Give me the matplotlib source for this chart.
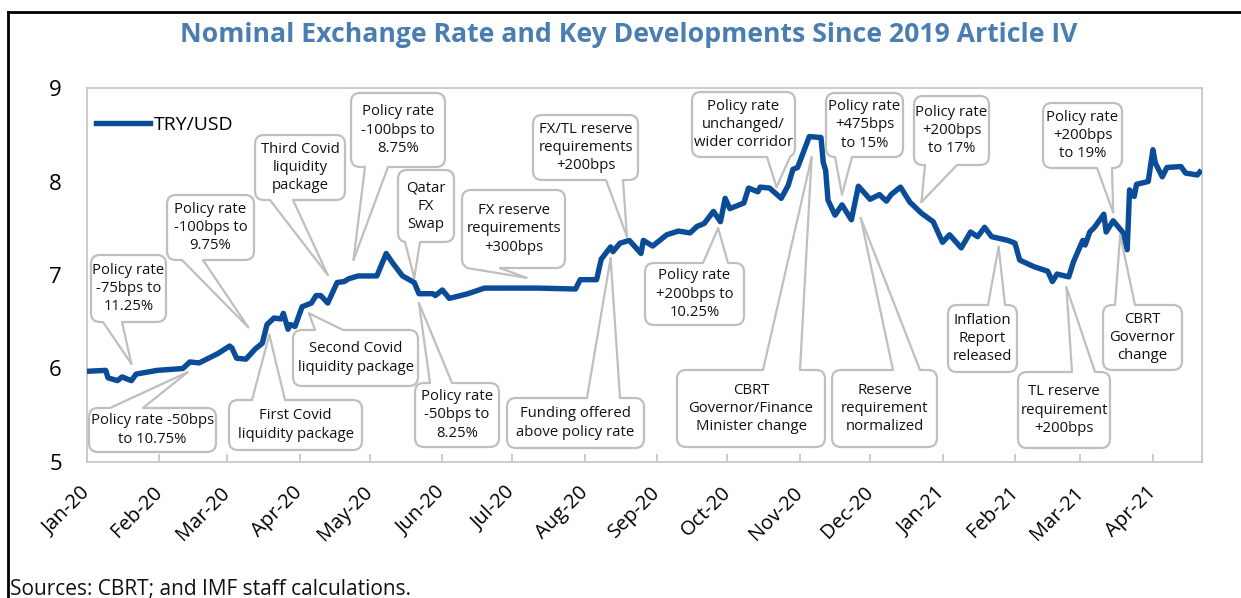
import matplotlib
matplotlib.use("Agg")
import matplotlib.pyplot as plt
import matplotlib.dates as mdates
import matplotlib.transforms as mtransforms
import pandas as pd
from matplotlib.patches import FancyBboxPatch, Polygon
from matplotlib.lines import Line2D

W, H = 1241, 598

DATES = [
    "2020-01-01", "2020-01-09", "2020-01-10", "2020-01-14", "2020-01-16", "2020-01-20", "2020-01-22",
    "2020-01-31", "2020-02-11", "2020-02-14", "2020-02-18", "2020-02-26", "2020-03-02", "2020-03-03",
    "2020-03-05", "2020-03-09", "2020-03-13", "2020-03-16", "2020-03-18", "2020-03-21", "2020-03-24",
    "2020-03-25", "2020-03-27", "2020-03-28", "2020-03-30", "2020-04-02", "2020-04-06", "2020-04-08",
    "2020-04-10", "2020-04-13", "2020-04-17", "2020-04-20", "2020-04-22", "2020-04-26", "2020-05-04",
    "2020-05-08", "2020-05-11", "2020-05-15", "2020-05-20", "2020-05-22", "2020-05-28", "2020-05-29",
    "2020-06-01", "2020-06-04", "2020-06-12", "2020-06-19", "2020-07-12", "2020-07-28", "2020-07-30",
    "2020-08-06", "2020-08-08", "2020-08-12", "2020-08-13", "2020-08-16", "2020-08-20", "2020-08-25",
    "2020-08-26", "2020-08-30", "2020-09-05", "2020-09-10", "2020-09-15", "2020-09-18", "2020-09-21",
    "2020-09-25", "2020-09-28", "2020-09-30", "2020-10-02", "2020-10-08", "2020-10-10", "2020-10-14",
    "2020-10-15", "2020-10-19", "2020-10-24", "2020-10-27", "2020-10-29", "2020-10-31", "2020-11-05",
    "2020-11-10", "2020-11-11", "2020-11-12", "2020-11-13", "2020-11-16", "2020-11-19", "2020-11-23",
    "2020-11-26", "2020-12-01", "2020-12-05", "2020-12-08", "2020-12-10", "2020-12-14", "2020-12-18",
    "2020-12-23", "2020-12-28", "2021-01-01", "2021-01-04", "2021-01-09", "2021-01-13", "2021-01-16",
    "2021-01-19", "2021-01-22", "2021-01-29", "2021-02-01", "2021-02-03", "2021-02-09", "2021-02-15",
    "2021-02-17", "2021-02-19", "2021-02-24", "2021-02-26", "2021-03-02", "2021-03-03", "2021-03-05",
    "2021-03-07", "2021-03-11", "2021-03-12", "2021-03-15", "2021-03-19", "2021-03-21", "2021-03-22",
    "2021-03-24", "2021-03-25", "2021-03-30", "2021-04-01", "2021-04-02", "2021-04-05", "2021-04-07",
    "2021-04-13", "2021-04-15", "2021-04-20", "2021-04-21",
]
TRY_USD = [
    5.97, 5.98, 5.90, 5.87, 5.91, 5.87, 5.94,
    5.98, 6.00, 6.07, 6.06, 6.16, 6.24, 6.22,
    6.11, 6.10, 6.21, 6.27, 6.47, 6.54, 6.53,
    6.59, 6.42, 6.47, 6.45, 6.66, 6.70, 6.78,
    6.78, 6.70, 6.92, 6.93, 6.96, 6.99, 6.99,
    7.23, 7.12, 6.99, 6.92, 6.80, 6.80, 6.78,
    6.84, 6.75, 6.80, 6.86, 6.86, 6.85, 6.95,
    6.95, 7.17, 7.30, 7.25, 7.34, 7.37, 7.23,
    7.37, 7.31, 7.43, 7.47, 7.45, 7.52, 7.55,
    7.68, 7.57, 7.82, 7.71, 7.77, 7.93, 7.89,
    7.94, 7.93, 7.82, 7.96, 8.13, 8.15, 8.48,
    8.47, 8.20, 8.12, 7.80, 7.64, 7.75, 7.59,
    7.95, 7.81, 7.86, 7.79, 7.86, 7.94, 7.78,
    7.66, 7.57, 7.35, 7.43, 7.29, 7.46, 7.41,
    7.51, 7.41, 7.37, 7.34, 7.16, 7.09, 7.04,
    6.93, 7.01, 6.98, 7.14, 7.37, 7.32, 7.46,
    7.51, 7.65, 7.46, 7.58, 7.46, 7.27, 7.91,
    7.84, 7.97, 8.00, 8.34, 8.20, 8.05, 8.15,
    8.16, 8.09, 8.07, 8.10,
]

EVENT_TEXT = [
    "Policy rate\n-75bps to\n11.25%",
    "Policy rate -50bps\nto 10.75%",
    "Policy rate\n-100bps to\n9.75%",
    "First Covid\nliquidity package",
    "Third Covid\nliquidity\npackage",
    "Second Covid\nliquidity package",
    "Policy rate\n-100bps to\n8.75%",
    "Qatar\nFX\nSwap",
    "Policy rate\n-50bps to\n8.25%",
    "FX reserve\nrequirements\n+300bps",
    "FX/TL reserve\nrequirements\n+200bps",
    "Funding offered\nabove policy rate",
    "Policy rate\n+200bps to\n10.25%",
    "Policy rate\nunchanged/\nwider corridor",
    "CBRT\nGovernor/Finance\nMinister change",
    "Reserve\nrequirement\nnormalized",
    "Policy rate\n+475bps\nto 15%",
    "Policy rate\n+200bps\nto 17%",
    "Inflation\nReport\nreleased",
    "TL reserve\nrequirement\n+200bps",
    "Policy rate\n+200bps\nto 19%",
    "CBRT\nGovernor\nchange",
]
EVENT_DATES = [
    "2020-01-20", "2020-02-13", "2020-03-10", "2020-03-19", "2020-04-13", "2020-04-05",
    "2020-04-24", "2020-05-20", "2020-05-22", "2020-07-07", "2020-08-19", "2020-08-12",
    "2020-09-27", "2020-10-22", "2020-11-06", "2020-11-27", "2020-11-19", "2020-12-23",
    "2021-01-25", "2021-02-23", "2021-03-15", "2021-03-18",
]
EVENT_LEVELS = [
    6.05, 5.96, 6.44, 6.36, 7.00, 6.59,
    7.16, 6.97, 6.70, 6.97, 7.41, 7.18,
    7.50, 7.94, 8.26, 7.61, 7.86, 7.78,
    7.30, 6.87, 7.67, 7.43,
]

# callout layout in image pixels: box (left, top, right, bottom), side of the pointer, pointer base
BOXES = [
    (91, 255, 166, 322), (89, 408, 216, 452), (167, 195, 254, 260), (229, 400, 362, 450),
    (255, 135, 345, 200), (293, 330, 418, 386), (351, 93, 445, 167), (398, 170, 454, 242),
    (415, 383, 499, 447), (462, 190, 565, 268), (533, 115, 638, 180), (507, 398, 644, 448),
    (645, 263, 744, 325), (692, 92, 795, 157), (677, 370, 825, 447), (832, 370, 937, 447),
    (826, 93, 903, 157), (914, 96, 989, 165), (948, 305, 1017, 372), (1018, 372, 1110, 448),
    (1043, 103, 1122, 168), (1103, 305, 1182, 370),
]
SIDES = ["bottom", "top", "bottom", "top", "bottom", "top", "bottom", "bottom", "top", "bottom", "bottom",
         "top", "top", "bottom", "top", "top", "bottom", "bottom", "top", "top", "bottom", "top"]
BASES = [
    (103, 122), (110, 143), (182, 203), (252, 285), (270, 293), (315, 343), (365, 388), (405, 420),
    (430, 452), (467, 500), (606, 623), (587, 620), (703, 728), (767, 790), (763, 800), (893, 920),
    (835, 852), (925, 957), (988, 1005), (1072, 1095), (1097, 1112), (1115, 1135),
]

LINE_COLOR = "#0A4C98"
TITLE_COLOR = "#4A7EB0"
GRAY = "#BFBFBF"
FONT = ["Open Sans", "DejaVu Sans"]

plt.rcParams["font.family"] = FONT


def _inch(px: float, py: float) -> tuple[float, float]:
    return px / 100.0, (H - py) / 100.0


def _callout(fig, ax, text, box, side, base, tip_date, tip_level) -> None:
    left, top, right, bottom = box
    x0, y0 = _inch(left, bottom)
    x1, y1 = _inch(right, top)
    inch_tr = fig.dpi_scale_trans
    fig.add_artist(FancyBboxPatch((x0, y0), x1 - x0, y1 - y0, boxstyle="round,pad=0,rounding_size=0.09",
                                  transform=inch_tr, facecolor="white", edgecolor=GRAY, linewidth=1.6, zorder=5))
    disp = ax.transData.transform((mdates.date2num(pd.Timestamp(tip_date)), tip_level))
    tx, ty = inch_tr.inverted().transform(disp)
    base_y = bottom if side == "bottom" else top
    inner_y = base_y - 3 if side == "bottom" else base_y + 3
    outer_y = base_y + 1.5 if side == "bottom" else base_y - 1.5
    b0, b1 = base
    poly = [_inch(b0, inner_y), _inch(b0, outer_y), (tx, ty), _inch(b1, outer_y), _inch(b1, inner_y)]
    fig.add_artist(Polygon(poly, closed=True, transform=inch_tr, facecolor="white", edgecolor="none", zorder=6))
    for bx in (b0, b1):
        sx, sy = _inch(bx, base_y)
        fig.add_artist(Line2D([sx, tx], [sy, ty], transform=inch_tr, color=GRAY, linewidth=1.6, zorder=7,
                              solid_capstyle="round"))
    cx, cy = _inch((left + right) / 2, (top + bottom) / 2)
    fig.text(cx, cy, text, transform=inch_tr, ha="center", va="center", fontsize=10.7, linespacing=1.3,
             color="#111111", zorder=8)


def main() -> None:
    fig = plt.figure(figsize=(W / 100, H / 100), dpi=100)
    fig.patch.set_facecolor("white")
    ax = fig.add_axes([87 / W, (H - 462) / H, 1115 / W, 374 / H])

    dates = pd.to_datetime(DATES)
    ax.plot(dates, TRY_USD, color=LINE_COLOR, linewidth=3.9, solid_joinstyle="round", label="TRY/USD", zorder=3)

    ax.set_xlim(pd.Timestamp("2020-01-01"), pd.Timestamp("2021-04-22"))
    ax.set_ylim(5, 9)
    ax.set_yticks([5, 6, 7, 8, 9])
    ax.tick_params(axis="y", length=0, pad=18, labelsize=16)
    ax.xaxis.set_major_locator(mdates.MonthLocator())
    ax.xaxis.set_major_formatter(mdates.DateFormatter("%b-%y"))
    ax.tick_params(axis="x", direction="in", length=5.5, width=1.1, color=GRAY, pad=20, labelsize=14.5)
    offset = mtransforms.ScaledTranslation(0.0, 0, fig.dpi_scale_trans)
    for label in ax.get_xticklabels():
        label.set_rotation(45)
        label.set_ha("right")
        label.set_va("center")
        label.set_rotation_mode("anchor")
        label.set_transform(label.get_transform() + offset)
    for spine in ax.spines.values():
        spine.set_color("#C8C8C8")
        spine.set_linewidth(1.3)

    ax.legend(loc="center left", bbox_to_anchor=(0.008, 0.901), frameon=False, fontsize=14,
              handlelength=2.8, handletextpad=0.2, borderpad=0, borderaxespad=0)

    for text, box, side, base, d, v in zip(EVENT_TEXT, BOXES, SIDES, BASES, EVENT_DATES, EVENT_LEVELS):
        _callout(fig, ax, text, box, side, base, d, v)

    fig.text(629 / W, 1 - 35 / H, "Nominal Exchange Rate and Key Developments Since 2019 Article IV",
             ha="center", va="center", fontsize=19.2, fontweight="bold", color=TITLE_COLOR)
    fig.text(10 / W, 1 - 595 / H, "Sources: CBRT; and IMF staff calculations.", ha="left", va="baseline",
             fontsize=15, color="#111111")

    # outer frame, only top and left edges are inside the picture
    fig.add_artist(Line2D([8 / W, 1.0], [1 - 12 / H, 1 - 12 / H], transform=fig.transFigure, color="black",
                          linewidth=2))
    fig.add_artist(Line2D([8 / W, 8 / W], [1 - 12 / H, 0.0], transform=fig.transFigure, color="black",
                          linewidth=2))

    fig.savefig("out.png", dpi=100)
    plt.close(fig)


if __name__ == "__main__":
    main()
